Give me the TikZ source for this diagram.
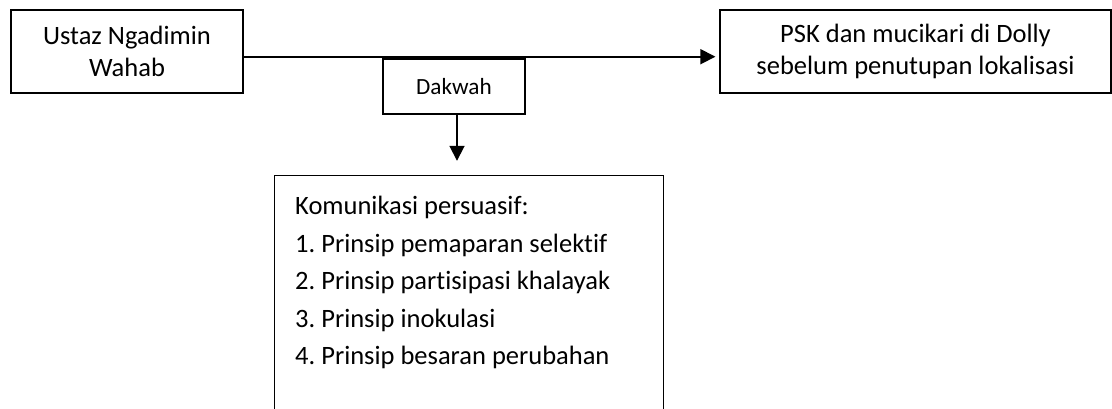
\documentclass[tikz,border=0pt]{standalone}
\usepackage{fontspec}
\setmainfont[Ligatures=NoCommon]{Carlito}
\usetikzlibrary{arrows.meta}
\frenchspacing
\tikzset{
  box/.style={draw=black, line width=1.2pt, inner sep=0pt, align=center},
  conn/.style={draw=black, line width=1.8pt, -{Triangle[length=15pt,width=15pt]}},
  bigfont/.style={font=\fontsize{26.5}{32.5}\selectfont},
  smallfont/.style={font=\fontsize{23.2}{28}\selectfont},
  listfont/.style={font=\fontsize{26.5}{37.5}\selectfont}
}
\begin{document}
\begin{tikzpicture}[x=1pt,y=-1pt]
\useasboundingbox[fill=white] (0,0) rectangle (1112,409);
\node[box, bigfont, minimum width=232pt, minimum height=83pt] (u) at (127,51.5) {Ustaz Ngadimin\\Wahab};
\node[box, bigfont, minimum width=391pt, minimum height=83pt] (p) at (915.5,51.5) {PSK dan mucikari di Dolly\\sebelum penutupan lokalisasi};
\node[box, smallfont, minimum width=142pt, minimum height=55pt] (d) at (454,86.5) {Dakwah};
\node[draw=none, inner sep=0pt, minimum width=388pt, minimum height=250pt] (k) at (469,301) {};
\draw[line width=1.2pt] (k.south west) -- (k.north west) -- (k.north east) -- (k.south east);
\node[listfont, align=left, anchor=north west, inner sep=0pt] (t) at (295,196) {Komunikasi persuasif:\\1. Prinsip pemaparan selektif\\2. Prinsip partisipasi khalayak\\3. Prinsip inokulasi\\4. Prinsip besaran perubahan};
\draw[conn] ([yshift=-5.2pt]u.east) -- ([yshift=-5.2pt,xshift=-4pt]p.west);
\draw[conn] ([xshift=3pt]d.south) -- ([xshift=3pt]d.south |- k.north) [shorten >=15pt];
\end{tikzpicture}
\end{document}
